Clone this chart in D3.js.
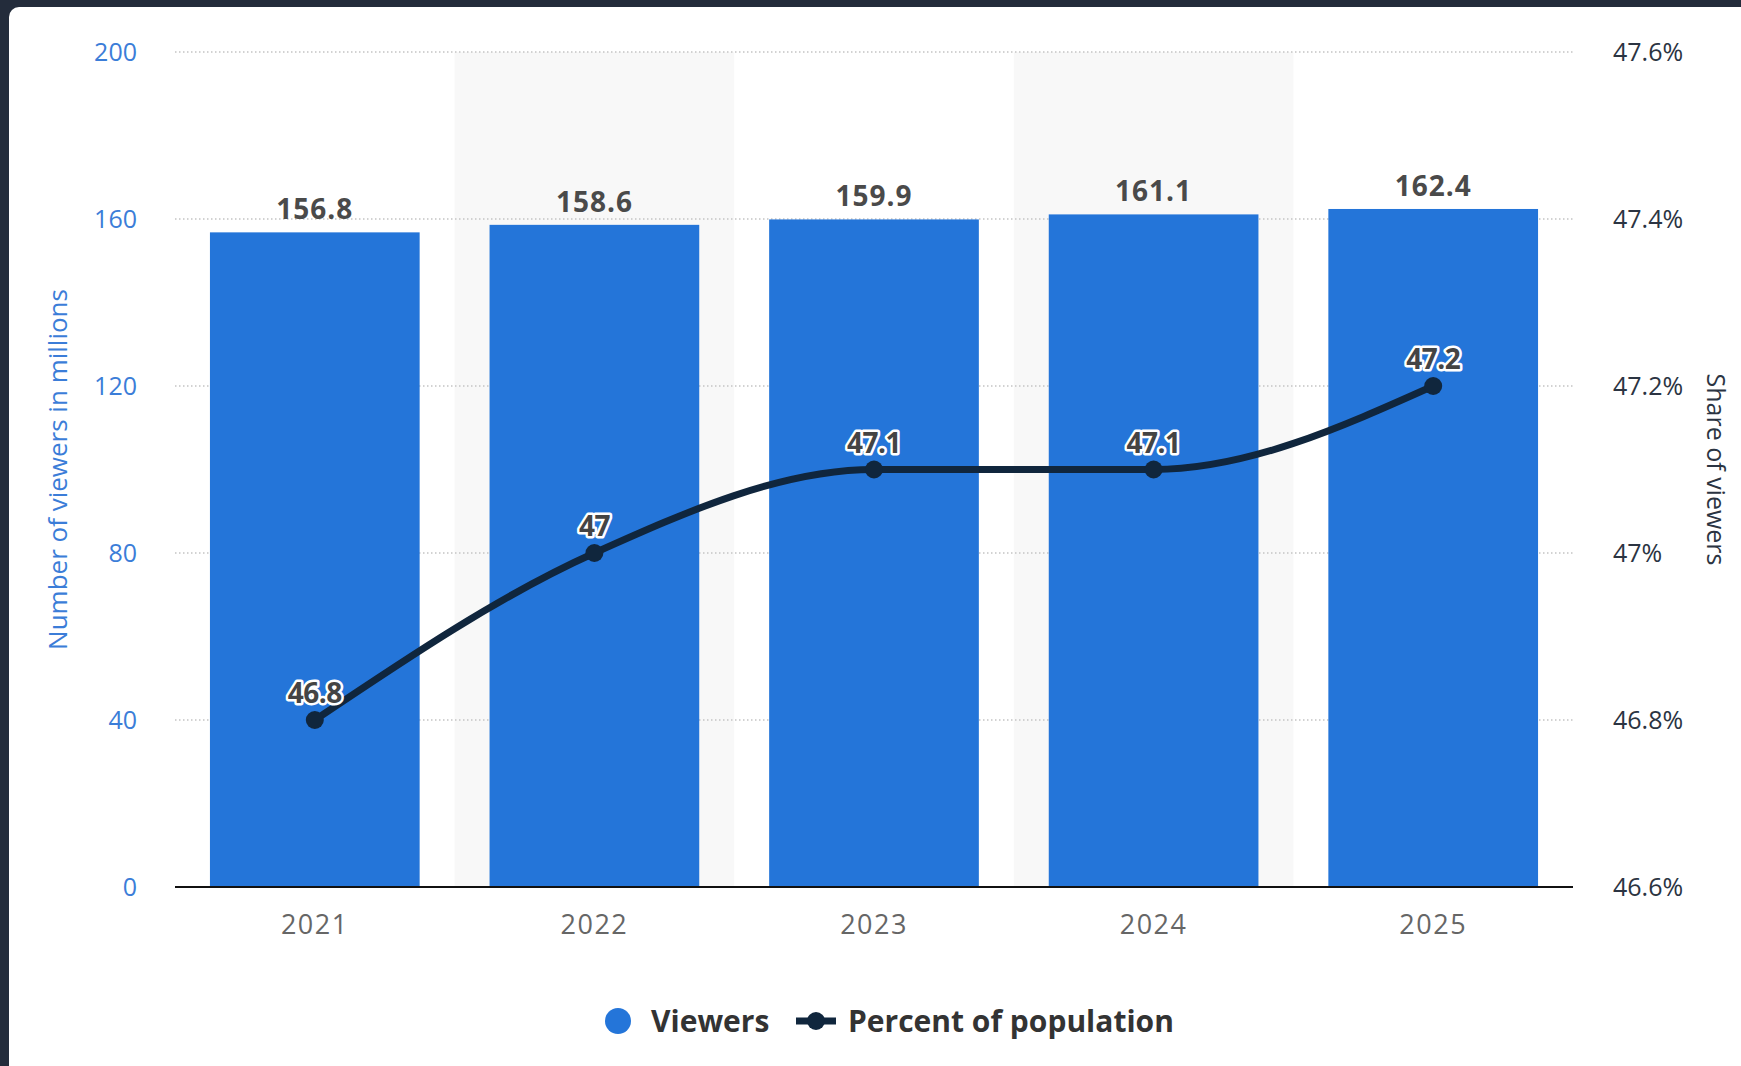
<!DOCTYPE html>
<html>
<head>
<meta charset="utf-8" />
<title>Viewers</title>
<script src="https://cdnjs.cloudflare.com/ajax/libs/d3/7.8.5/d3.min.js"></script>
<style>
  html, body { margin: 0; padding: 0; background: #232c3b; }
  svg { display: block; font-family: "Open Sans", "DejaVu Sans", sans-serif; }
</style>
</head>
<body>
<svg id="chart" width="1741" height="1066"></svg>
<script>
const years = ['2021', '2022', '2023', '2024', '2025']
const viewers = [156.8, 158.6, 159.9, 161.1, 162.4]
const share = [46.8, 47, 47.1, 47.1, 47.2]
const leftTicks = [0, 40, 80, 120, 160, 200]
const rightTicks = [46.6, 46.8, 47, 47.2, 47.4, 47.6]

const blue = '#2475d9'
const navy = '#10263d'
const svg = d3.select('#chart')

// dark frame + white card
svg.append('rect').attr('width', 1741).attr('height', 1066).attr('fill', '#232c3b')
svg.append('rect').attr('x', 9).attr('y', 7).attr('width', 1760).attr('height', 1100)
  .attr('rx', 10).attr('fill', '#ffffff')

const pLeft = 175, pRight = 1573, pTop = 52, pBottom = 887

const x = d3.scaleBand().domain(years).range([pLeft, pRight]).paddingInner(0.25).paddingOuter(0.125)
const y = d3.scaleLinear().domain([0, 200]).range([pBottom, pTop])
const y2 = d3.scaleLinear().domain([46.6, 47.6]).range([pBottom, pTop])
const step = x.step()

// alternating band shading
svg.append('g').selectAll('rect').data(years.filter((d, i) => i % 2 === 1)).join('rect')
  .attr('x', d => x(d) - step * 0.125)
  .attr('y', pTop)
  .attr('width', step)
  .attr('height', pBottom - pTop)
  .attr('fill', '#f8f8f8')

// gridlines
svg.append('g').selectAll('line').data(leftTicks.filter(d => d > 0)).join('line')
  .attr('x1', pLeft).attr('x2', pRight)
  .attr('y1', d => y(d)).attr('y2', d => y(d))
  .attr('stroke', '#c4c4c4').attr('stroke-width', 1.5).attr('stroke-dasharray', '1.5,2.5')

// bars
svg.append('g').selectAll('rect').data(viewers).join('rect')
  .attr('x', (d, i) => x(years[i]))
  .attr('y', d => y(d))
  .attr('width', x.bandwidth())
  .attr('height', d => pBottom - y(d))
  .attr('fill', blue)

svg.append('g').selectAll('text').data(viewers).join('text')
  .attr('x', (d, i) => x(years[i]) + x.bandwidth() / 2)
  .attr('y', d => y(d) - 13)
  .attr('text-anchor', 'middle')
  .attr('font-size', 28).attr('font-weight', 'bold').attr('fill', '#4a4a4a')
  .attr('letter-spacing', 1)
  .text(d => d)

// base line
svg.append('line').attr('x1', pLeft).attr('x2', pRight).attr('y1', pBottom).attr('y2', pBottom)
  .attr('stroke', '#111').attr('stroke-width', 2)

// left axis
const yAxis = svg.append('g').attr('transform', `translate(${pLeft},0)`)
  .call(d3.axisLeft(y).tickValues(leftTicks).tickSize(0).tickPadding(38))
yAxis.select('.domain').remove()
yAxis.selectAll('text').attr('font-size', 25).attr('fill', '#3b7dd8')
yAxis.attr('font-family', null)

// right axis
const y2Axis = svg.append('g').attr('transform', `translate(${pRight},0)`)
  .call(d3.axisRight(y2).tickValues(rightTicks).tickSize(0).tickPadding(40)
    .tickFormat(d => (+d.toFixed(1)) + '%'))
y2Axis.select('.domain').remove()
y2Axis.selectAll('text').attr('font-size', 25).attr('fill', '#2b3442')
y2Axis.attr('font-family', null)

// bottom axis
const xAxis = svg.append('g').attr('transform', `translate(0,${pBottom})`)
  .call(d3.axisBottom(x).tickSize(0).tickPadding(28))
xAxis.select('.domain').remove()
xAxis.selectAll('text').attr('font-size', 27).attr('fill', '#666').attr('letter-spacing', 1.5)
xAxis.attr('font-family', null)

// axis titles
svg.append('text')
  .attr('transform', `translate(58,${(pTop + pBottom) / 2}) rotate(-90)`)
  .attr('text-anchor', 'middle').attr('dy', '0.35em')
  .attr('font-size', 26).attr('fill', '#3b7dd8')
  .text('Number of viewers in millions')

svg.append('text')
  .attr('transform', `translate(1716,${(pTop + pBottom) / 2}) rotate(90)`)
  .attr('text-anchor', 'middle').attr('dy', '0.35em')
  .attr('font-size', 25).attr('fill', '#2b3442')
  .text('Share of viewers')

// share line
const line = d3.line()
  .x((d, i) => x(years[i]) + x.bandwidth() / 2)
  .y(d => y2(d))
  .curve(d3.curveMonotoneX)

svg.append('path').attr('d', line(share))
  .attr('fill', 'none').attr('stroke', navy).attr('stroke-width', 7)
  .attr('stroke-linecap', 'round')

svg.append('g').selectAll('circle').data(share).join('circle')
  .attr('cx', (d, i) => x(years[i]) + x.bandwidth() / 2)
  .attr('cy', d => y2(d))
  .attr('r', 9)
  .attr('fill', navy)

svg.append('g').selectAll('text').data(share).join('text')
  .attr('x', (d, i) => x(years[i]) + x.bandwidth() / 2)
  .attr('y', d => y2(d) - 17)
  .attr('text-anchor', 'middle')
  .attr('font-size', 28).attr('font-weight', 'bold')
  .attr('fill', '#444').attr('stroke', '#fff').attr('stroke-width', 5)
  .attr('stroke-linejoin', 'round').attr('paint-order', 'stroke')
  .attr('letter-spacing', -0.5)
  .text(d => d)

// legend
const legend = svg.append('g').attr('transform', 'translate(0,1021)')
legend.append('circle').attr('cx', 618).attr('cy', 0).attr('r', 13).attr('fill', blue)
legend.append('text').attr('x', 651).attr('y', 0).attr('dy', '0.35em')
  .attr('font-size', 30).attr('font-weight', 'bold').attr('fill', '#333')
  .text('Viewers')
legend.append('line').attr('x1', 796).attr('x2', 836).attr('y1', 0).attr('y2', 0)
  .attr('stroke', navy).attr('stroke-width', 7)
legend.append('circle').attr('cx', 816).attr('cy', 0).attr('r', 9).attr('fill', navy)
legend.append('text').attr('x', 848).attr('y', 0).attr('dy', '0.35em')
  .attr('font-size', 30).attr('font-weight', 'bold').attr('fill', '#333')
  .text('Percent of population')
</script>
</body>
</html>
